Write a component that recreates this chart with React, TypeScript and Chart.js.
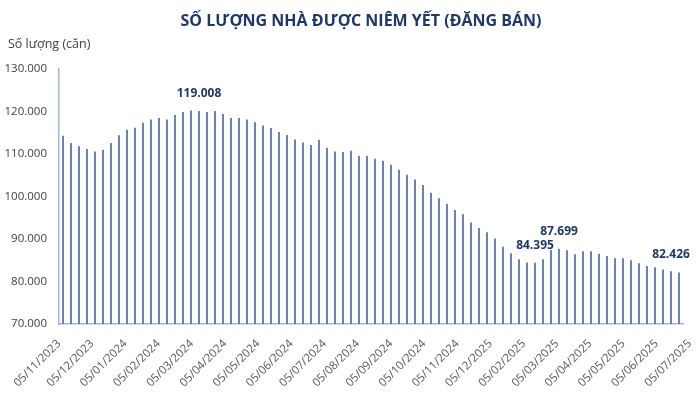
import React, { useEffect, useRef } from "react";
import { Chart, registerables } from "chart.js";

Chart.register(...registerables);

// ---- data ----
const tickLabels = [
  "05/11/2023", "05/12/2023", "05/01/2024", "05/02/2024", "05/03/2024",
  "05/04/2024", "05/05/2024", "05/06/2024", "05/07/2024", "05/08/2024",
  "05/09/2024", "05/10/2024", "05/11/2024", "05/12/2025", "05/02/2025",
  "05/03/2025", "05/04/2025", "05/05/2025", "05/06/2025", "05/07/2025",
];

const listings = [
  114300, 112600, 111800, 111200, 110600, 111000, 112600, 114400, 115700, 116200,
  117350, 118100, 118500, 118100, 119200, 119900, 120250, 120100, 119900, 120100,
  119400, 118500, 118500, 118100, 117500, 116700, 116100, 115200, 114500, 113400,
  112700, 112100, 113350, 111500, 110600, 110500, 110750, 109600, 109600, 108900,
  108400, 107500, 106300, 105100, 104000, 102700, 100900, 99600, 98300, 96800,
  95850, 93900, 92600, 91600, 90100, 88200, 86650, 85250, 84450, 84395,
  85250, 87400, 87699, 87350, 86400, 87100, 87100, 86550, 86000, 85500,
  85500, 85000, 84300, 83650, 83350, 82800, 82426, 82100,
];

const calloutIndex = [17, 59, 62, 76];
const calloutText = ["119.008", "84.395", "87.699", "82.426"];

const yMin = 70000;
const yMax = 130000;
const yStep = 10000;

const titleText = "SỐ LƯỢNG NHÀ ĐƯỢC NIÊM YẾT (ĐĂNG BÁN)";
const unitText = "Số lượng (căn)";

const FONT = "'Open Sans', 'DejaVu Sans', sans-serif";
const NAVY = "#1f3864";

const fmt = (v: number) =>
  String(Math.round(v)).replace(/\B(?=(\d{3})+(?!\d))/g, ".");

const textPlugin = {
  id: "texts",
  afterDraw(chart: any) {
    const ctx = chart.ctx;
    ctx.save();
    ctx.fillStyle = NAVY;
    ctx.font = `bold 16px ${FONT}`;
    ctx.textAlign = "center";
    ctx.textBaseline = "middle";
    ctx.fillText(titleText, 361, 21);
    ctx.fillStyle = "#404040";
    ctx.font = `12.5px ${FONT}`;
    ctx.textAlign = "left";
    ctx.fillText(unitText, 8, 44);
    ctx.restore();
  },
  afterDatasetsDraw(chart: any) {
    const ctx = chart.ctx;
    const meta = chart.getDatasetMeta(0);
    ctx.save();
    ctx.fillStyle = NAVY;
    ctx.font = `bold 12px ${FONT}`;
    ctx.textAlign = "center";
    ctx.textBaseline = "middle";
    calloutIndex.forEach((idx, k) => {
      const el = meta.data[idx];
      if (!el) return;
      ctx.fillText(calloutText[k], el.x, el.y - 17);
    });
    ctx.restore();
  },
};

export default function App() {
  const ref = useRef<HTMLCanvasElement>(null);

  useEffect(() => {
    if (!ref.current) return;
    const categories = listings.map((_, i) => String(i));
    const chart = new Chart(ref.current, {
      type: "bar",
      data: {
        labels: categories,
        datasets: [
          {
            data: listings,
            backgroundColor: "#5a71a6",
            categoryPercentage: 1,
            barPercentage: 0.22,
            xAxisID: "x",
            yAxisID: "y",
          },
        ],
      },
      options: {
        animation: false,
        responsive: false,
        layout: { padding: { left: 0, right: 17, top: 69, bottom: 0 } },
        plugins: {
          legend: { display: false },
          tooltip: { enabled: false },
          title: { display: false },
        },
        scales: {
          x: {
            type: "category",
            position: "bottom",
            offset: true,
            grid: { display: false, drawTicks: false },
            border: { display: true, color: "#a9b3c8", width: 1.5 },
            ticks: { display: false },
            afterFit: (scale: any) => {
              scale.paddingLeft = 0;
              scale.paddingRight = 0;
            },
          },
          xl: {
            type: "linear",
            position: "bottom",
            offset: false,
            min: 0,
            max: 624 / 33.2,
            grid: { display: false, drawTicks: false, offset: false },
            border: { display: false },
            ticks: {
              autoSkip: false,
              minRotation: 45,
              maxRotation: 45,
              padding: 13,
              color: "#595959",
              font: { family: FONT, size: 11.5 },
              callback: (v: any) => tickLabels[Math.round(Number(v))] ?? "",
            },
            afterBuildTicks: (scale: any) => {
              scale.ticks = tickLabels.map((_, i) => ({ value: i }));
            },
            afterFit: (scale: any) => {
              scale.height = 78;
              scale.paddingLeft = 0;
              scale.paddingRight = 0;
            },
          },
          y: {
            min: yMin,
            max: yMax,
            grid: { display: false, drawTicks: false },
            border: { display: true, color: "#a8b6d4", width: 1.5 },
            ticks: {
              stepSize: yStep,
              padding: 12,
              color: "#404040",
              font: { family: FONT, size: 11.5 },
              callback: (v: any) => fmt(Number(v)),
            },
            afterFit: (scale: any) => {
              scale.width = 59;
            },
          },
        },
      },
      plugins: [textPlugin],
    } as any);
    return () => chart.destroy();
  }, []);

  return (
    <div style={{ position: "fixed", left: 0, top: 0, width: 700, height: 402, background: "#fff" }}>
      <canvas ref={ref} width={700} height={402} style={{ display: "block" }} />
    </div>
  );
}
